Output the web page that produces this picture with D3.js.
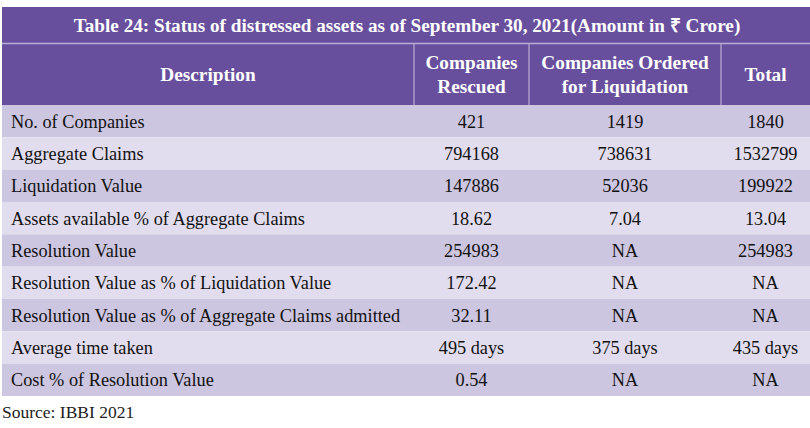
<!DOCTYPE html>
<html>
<head>
<meta charset="utf-8">
<script src="https://cdn.jsdelivr.net/npm/d3@7"></script>
<style>
  body { margin: 0; background: #fff; }
  text { font-family: "Liberation Serif", "Times New Roman", serif; }
</style>
</head>
<body>
<svg id="chart" width="810" height="428"></svg>
<script>
// table content
var title = "Table 24: Status of distressed assets as of September 30, 2021(Amount in \u20B9 Crore)";
var headers = [["Description"], ["Companies", "Rescued"], ["Companies Ordered", "for Liquidation"], ["Total"]];
var descriptions = [
  "No. of Companies",
  "Aggregate Claims",
  "Liquidation Value",
  "Assets available % of Aggregate Claims",
  "Resolution Value",
  "Resolution Value as % of Liquidation Value",
  "Resolution Value as % of Aggregate Claims admitted",
  "Average time taken",
  "Cost % of Resolution Value"
];
var rescued = ["421", "794168", "147886", "18.62", "254983", "172.42", "32.11", "495 days", "0.54"];
var liquidation = ["1419", "738631", "52036", "7.04", "NA", "NA", "NA", "375 days", "NA"];
var total = ["1840", "1532799", "199922", "13.04", "254983", "NA", "NA", "435 days", "NA"];
var source = "Source: IBBI 2021";

var svg = d3.select("#chart");
var colEdges = [2, 414, 529, 721, 810];
var purple = "#684f9d";

// title band
svg.append("rect").attr("x", 2).attr("y", 7).attr("width", 808).attr("height", 36).attr("fill", purple);
svg.append("text").attr("x", 407).attr("y", 31.5)
  .attr("text-anchor", "middle").attr("fill", "#fff")
  .attr("font-weight", "bold").attr("font-size", 19.2).text(title);

// header band
svg.append("rect").attr("x", 2).attr("y", 44).attr("width", 808).attr("height", 61).attr("fill", purple);
svg.append("line").attr("x1", 2).attr("x2", 810).attr("y1", 43.5).attr("y2", 43.5)
  .attr("stroke", "#b9acd6").attr("stroke-width", 1.5);

headers.forEach(function(h, i) {
  var cx = (colEdges[i] + colEdges[i + 1]) / 2;
  var t = svg.append("text").attr("text-anchor", "middle").attr("fill", "#fff")
    .attr("font-weight", "bold").attr("font-size", 19.3);
  var y0 = h.length == 1 ? 81 : 69;
  h.forEach(function(line, j) {
    t.append("tspan").attr("x", cx).attr("y", y0 + j * 24).text(line);
  });
  if (i > 0) {
    svg.append("line").attr("x1", colEdges[i]).attr("x2", colEdges[i])
      .attr("y1", 44).attr("y2", 105).attr("stroke", "#c9bfe0").attr("stroke-width", 1);
  }
});

// body rows
var y = d3.scaleBand().domain(d3.range(descriptions.length)).range([105, 396]);
var rows = svg.selectAll("g.row").data(descriptions).join("g")
  .attr("class", "row")
  .attr("transform", function(d, i) { return "translate(0," + y(i) + ")"; });

rows.append("rect").attr("x", 2).attr("width", 808).attr("height", y.bandwidth())
  .attr("fill", function(d, i) { return i % 2 == 0 ? "#cdc6e0" : "#e2ddee"; });

rows.append("text").attr("x", 11).attr("y", y.bandwidth() / 2 + 6.5)
  .attr("font-size", 18.3).attr("fill", "#111")
  .text(function(d) { return d; });

[rescued, liquidation, total].forEach(function(col, k) {
  var cx = (colEdges[k + 1] + colEdges[k + 2]) / 2;
  rows.append("text").attr("x", cx).attr("y", y.bandwidth() / 2 + 6.5)
    .attr("text-anchor", "middle").attr("font-size", 18.3).attr("fill", "#111")
    .text(function(d, i) { return col[i]; });
});

svg.append("text").attr("x", 2).attr("y", 418).attr("font-size", 17.5).attr("fill", "#222").text(source);
</script>
</body>
</html>
